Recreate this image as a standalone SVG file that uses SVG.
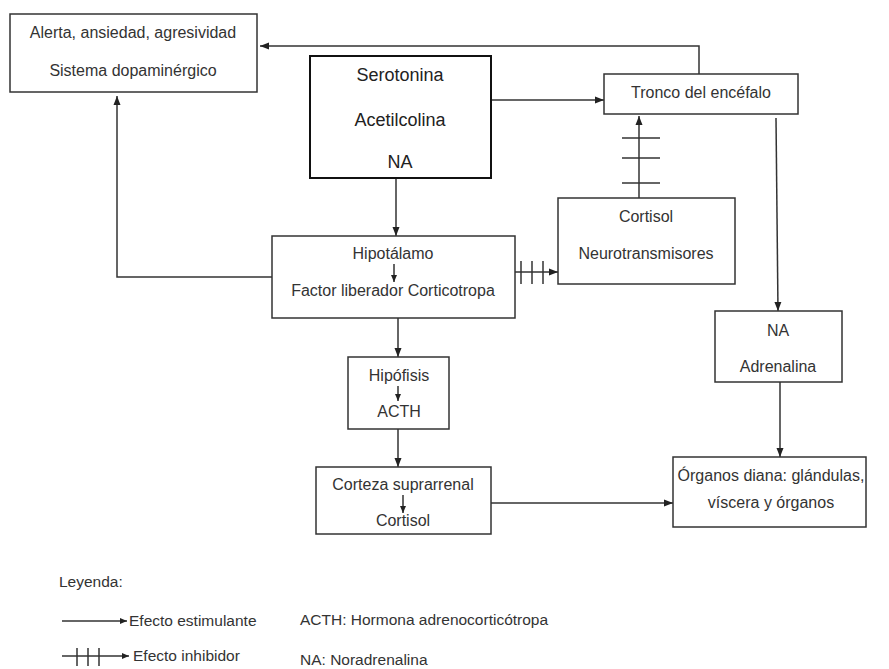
<svg xmlns="http://www.w3.org/2000/svg" width="889" height="669" viewBox="0 0 889 669">
<defs>
<marker id="ah" markerUnits="userSpaceOnUse" markerWidth="10" markerHeight="10" refX="9" refY="5" orient="auto">
<path d="M0,1.5 L9,5 L0,8.5 Z" fill="#222"/>
</marker>
<marker id="ahs" markerUnits="userSpaceOnUse" markerWidth="8" markerHeight="8" refX="7" refY="4" orient="auto">
<path d="M0,1 L7,4 L0,7 Z" fill="#222"/>
</marker>
<style>
.box{fill:#fff;stroke:#333;stroke-width:1.5}
.bold{fill:#fff;stroke:#111;stroke-width:2}
.t{font-family:"Liberation Sans",Arial,sans-serif;font-size:16px;fill:#333;text-anchor:middle}
.big{font-size:18px;fill:#222}
.l{font-family:"Liberation Sans",Arial,sans-serif;font-size:15.5px;fill:#333}
.c{fill:none;stroke:#333;stroke-width:1.5}
.tick{stroke:#333;stroke-width:1.5}
</style>
</defs>
<rect width="889" height="669" fill="#fff"/>

<g id="connectors">
<polyline class="c" points="699,74 699,46 260,46" marker-end="url(#ah)"/>
<line class="c" x1="491" y1="100" x2="604" y2="100" marker-end="url(#ah)"/>
<line class="c" x1="396" y1="178" x2="396" y2="236" marker-end="url(#ah)"/>
<polyline class="c" points="272,277 117,277 117,96" marker-end="url(#ah)"/>
<line class="c" x1="515" y1="272" x2="558" y2="272" marker-end="url(#ah)"/>
<line class="tick" x1="521" y1="261" x2="521" y2="284"/>
<line class="tick" x1="532" y1="261" x2="532" y2="284"/>
<line class="tick" x1="543" y1="261" x2="543" y2="284"/>
<line class="c" x1="639" y1="198" x2="639" y2="116" marker-end="url(#ah)"/>
<line class="tick" x1="622" y1="138" x2="660" y2="138"/>
<line class="tick" x1="622" y1="158" x2="660" y2="158"/>
<line class="tick" x1="622" y1="183" x2="660" y2="183"/>
<line class="c" x1="776" y1="118" x2="778" y2="311" marker-end="url(#ah)"/>
<line class="c" x1="780" y1="382" x2="780" y2="457" marker-end="url(#ah)"/>
<line class="c" x1="398" y1="318" x2="398" y2="357" marker-end="url(#ah)"/>
<line class="c" x1="398" y1="429" x2="398" y2="467" marker-end="url(#ah)"/>
<line class="c" x1="491" y1="503" x2="673" y2="503" marker-end="url(#ah)"/>
</g>

<g id="alerta">
<rect class="box" x="10" y="14" width="247" height="78"/>
<text class="t" x="133" y="38">Alerta, ansiedad, agresividad</text>
<text class="t" x="133" y="76">Sistema dopaminérgico</text>
</g>

<g id="serotonina">
<rect class="bold" x="310" y="56" width="181" height="122"/>
<text class="t big" x="400" y="81">Serotonina</text>
<text class="t big" x="400" y="126">Acetilcolina</text>
<text class="t big" x="400" y="168">NA</text>
</g>

<g id="tronco">
<rect class="box" x="604" y="74" width="194" height="40"/>
<text class="t" x="701" y="98">Tronco del encéfalo</text>
</g>

<g id="cortisol-neuro">
<rect class="box" x="558" y="198" width="177" height="86"/>
<text class="t" x="646" y="222">Cortisol</text>
<text class="t" x="646" y="259">Neurotransmisores</text>
</g>

<g id="hipotalamo">
<rect class="box" x="272" y="236" width="243" height="82"/>
<text class="t" x="393" y="259">Hipotálamo</text>
<line class="c" x1="394" y1="264" x2="394" y2="282" marker-end="url(#ahs)"/>
<text class="t" x="393" y="296">Factor liberador Corticotropa</text>
</g>

<g id="hipofisis">
<rect class="box" x="348" y="357" width="101" height="72"/>
<text class="t" x="399" y="381">Hipófisis</text>
<line class="c" x1="398" y1="386" x2="398" y2="401" marker-end="url(#ahs)"/>
<text class="t" x="399" y="417">ACTH</text>
</g>

<g id="corteza">
<rect class="box" x="316" y="467" width="175" height="67"/>
<text class="t" x="403" y="490">Corteza suprarrenal</text>
<line class="c" x1="403" y1="495" x2="403" y2="513" marker-end="url(#ahs)"/>
<text class="t" x="403" y="526">Cortisol</text>
</g>

<g id="na-adrenalina">
<rect class="box" x="715" y="311" width="127" height="71"/>
<text class="t" x="778" y="336">NA</text>
<text class="t" x="778" y="372">Adrenalina</text>
</g>

<g id="organos">
<rect class="box" x="673" y="457" width="193" height="70"/>
<text class="t" x="771" y="481">Órganos diana: glándulas,</text>
<text class="t" x="771" y="508">víscera y órganos</text>
</g>

<g id="leyenda">
<text class="l" x="59" y="587">Leyenda:</text>
<line class="c" x1="62" y1="621" x2="127" y2="621" marker-end="url(#ahs)"/>
<text class="l" x="129" y="626">Efecto estimulante</text>
<line class="c" x1="62" y1="656" x2="129" y2="656" marker-end="url(#ahs)"/>
<line class="tick" x1="77" y1="648" x2="77" y2="666"/>
<line class="tick" x1="88" y1="648" x2="88" y2="666"/>
<line class="tick" x1="99" y1="648" x2="99" y2="666"/>
<text class="l" x="133" y="661">Efecto inhibidor</text>
<text class="l" x="300" y="625">ACTH: Hormona adrenocorticótropa</text>
<text class="l" x="300" y="665">NA: Noradrenalina</text>
</g>
</svg>
